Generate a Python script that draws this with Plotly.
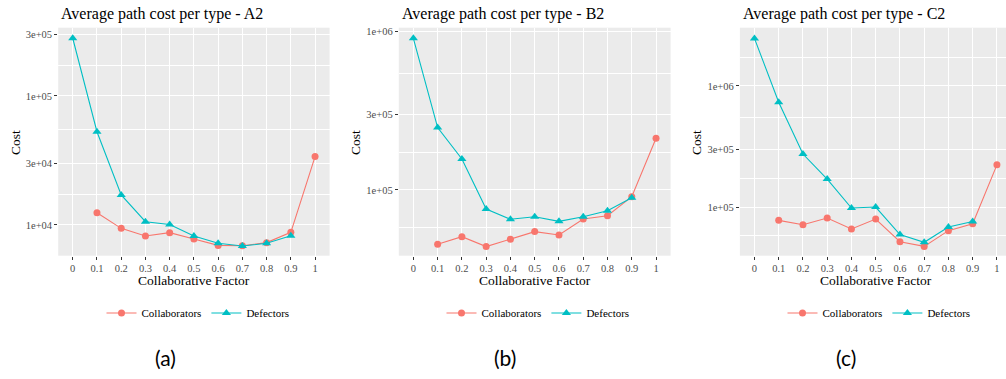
import plotly.graph_objects as go

# ---------------- data ----------------
factor_collab = [0.1, 0.2, 0.3, 0.4, 0.5, 0.6, 0.7, 0.8, 0.9, 1.0]
factor_defect = [0.0, 0.1, 0.2, 0.3, 0.4, 0.5, 0.6, 0.7, 0.8, 0.9]
x_ticks = [0, 0.1, 0.2, 0.3, 0.4, 0.5, 0.6, 0.7, 0.8, 0.9, 1.0]
x_ticktext = ["0", "0.1", "0.2", "0.3", "0.4", "0.5", "0.6", "0.7", "0.8", "0.9", "1"]

a2_collab = [12450, 9420, 8220, 8720, 7790, 6950, 6900, 7300, 8770, 33900]
a2_defect = [280000, 52800, 17100, 10600, 10100, 8220, 7220, 6870, 7220, 8260]

b2_collab = [45400, 50700, 43900, 48900, 54600, 52000, 65600, 68800, 90800, 212000]
b2_defect = [908000, 248000, 157000, 75900, 65300, 67800, 63400, 67800, 74000, 89400]

c2_collab = [77600, 71500, 81100, 65900, 79600, 51700, 47300, 63800, 72800, 223000]
c2_defect = [2470000, 734000, 274000, 170000, 98200, 100000, 59200, 51100, 68400, 76000]

titles = ["Average path cost per type - A2", "Average path cost per type - B2",
          "Average path cost per type - C2"]
captions = ["(a)", "(b)", "(c)"]

a2_yticks = [1e4, 3e4, 1e5, 3e5]
a2_yticktext = ["1e+04", "3e+04", "1e+05", "3e+05"]
b2_yticks = [1e5, 3e5, 1e6]
b2_yticktext = ["1e+05", "3e+05", "1e+06"]
c2_yticks = [1e5, 3e5, 1e6]
c2_yticktext = ["1e+05", "3e+05", "1e+06"]

a2_minor = [5774, 17321, 54772, 173205]
b2_minor = [57735, 173205, 547723]
c2_minor = [57735, 173205, 547723, 1732051]

# ---------------- styling ----------------
W, H = 1006, 379
RED = "#F8766D"
CYAN = "#00BFC4"
SERIF = "Liberation Serif"

def px_x(p):
    return p / W

def px_y(p):
    return 1 - p / H

panels = [
    dict(collab=a2_collab, defect=a2_defect, yt=a2_yticks, ytt=a2_yticktext, minor=a2_minor,
         xdom=[58.2, 329.6], xr=[-0.06, 1.06], yr=[3.762, 5.529],
         title_x=58.5, cost_x=15, xlab_x=194, leg_x=198, cap_x=165),
    dict(collab=b2_collab, defect=b2_defect, yt=b2_yticks, ytt=b2_yticktext, minor=b2_minor,
         xdom=[398.8, 670.6], xr=[-0.06, 1.06], yr=[4.585, 6.025],
         title_x=399.5, cost_x=355, xlab_x=535, leg_x=538, cap_x=505),
    dict(collab=c2_collab, defect=c2_defect, yt=c2_yticks, ytt=c2_yticktext, minor=c2_minor,
         xdom=[739.9, 1006], xr=[-0.06, 1.0374], yr=[4.598, 6.481],
         title_x=740.5, cost_x=696, xlab_x=876, leg_x=879, cap_x=846),
]

fig = go.Figure()
annotations = []
layout = {}

for i, p in enumerate(panels):
    n = "" if i == 0 else str(i + 1)
    leg = "legend" + n
    fig.add_trace(go.Scatter(
        x=factor_collab, y=p["collab"], mode="lines+markers", name="Collaborators",
        line=dict(color=RED, width=1.1), marker=dict(symbol="circle", size=7, color=RED),
        xaxis="x" + n, yaxis="y" + n, legend=leg))
    fig.add_trace(go.Scatter(
        x=factor_defect, y=p["defect"], mode="lines+markers", name="Defectors",
        line=dict(color=CYAN, width=1.1), marker=dict(symbol="triangle-up", size=8, color=CYAN),
        xaxis="x" + n, yaxis="y" + n, legend=leg))

    layout["xaxis" + n] = dict(
        domain=[px_x(p["xdom"][0]), min(1.0, px_x(p["xdom"][1]))], range=p["xr"],
        anchor="y" + n, tickvals=x_ticks, ticktext=x_ticktext,
        showgrid=True, gridcolor="white", gridwidth=1.1, zeroline=False, showline=False,
        ticks="outside", ticklen=3, tickwidth=1.1, tickcolor="#333333",
        tickfont=dict(family=SERIF, size=10.5, color="#4D4D4D"), fixedrange=True)
    layout["yaxis" + n] = dict(
        domain=[px_y(255.7), px_y(27.7)], type="log", range=p["yr"],
        anchor="x" + n, tickvals=p["yt"], ticktext=p["ytt"],
        showgrid=True, gridcolor="white", gridwidth=1.1, zeroline=False, showline=False,
        ticks="outside", ticklen=3, tickwidth=1.1, tickcolor="#333333",
        tickfont=dict(family=SERIF, size=10.5, color="#4D4D4D"),
        minor=dict(tickvals=p["minor"], showgrid=True, gridcolor="white", gridwidth=0.55),
        fixedrange=True)
    layout[leg] = dict(
        orientation="h", x=px_x(p["leg_x"]), xanchor="center", y=px_y(313), yanchor="middle",
        font=dict(family=SERIF, size=11, color="black"), bgcolor="rgba(0,0,0,0)",
        itemwidth=30, tracegroupgap=0)

    annotations.append(dict(text=titles[i], x=px_x(p["title_x"]), y=px_y(14), xref="paper", yref="paper",
                            xanchor="left", yanchor="middle", showarrow=False,
                            font=dict(family=SERIF, size=16, color="black")))
    annotations.append(dict(text="Cost", x=px_x(p["cost_x"]), y=px_y(143), xref="paper", yref="paper",
                            xanchor="center", yanchor="middle", textangle=-90, showarrow=False,
                            font=dict(family=SERIF, size=13.5, color="black")))
    annotations.append(dict(text="Collaborative Factor", x=px_x(p["xlab_x"]), y=px_y(280),
                            xref="paper", yref="paper", xanchor="center", yanchor="middle",
                            showarrow=False, font=dict(family=SERIF, size=13.5, color="black")))
    annotations.append(dict(text=captions[i], x=px_x(p["cap_x"]), y=px_y(357), xref="paper", yref="paper",
                            xanchor="center", yanchor="middle", showarrow=False,
                            font=dict(family="Lato", size=21, color="black")))

fig.update_layout(
    width=W, height=H, margin=dict(l=0, r=0, t=0, b=0),
    plot_bgcolor="#EBEBEB", paper_bgcolor="white",
    annotations=annotations, **layout)

fig.write_html("out.html", config={"displayModeBar": False})
